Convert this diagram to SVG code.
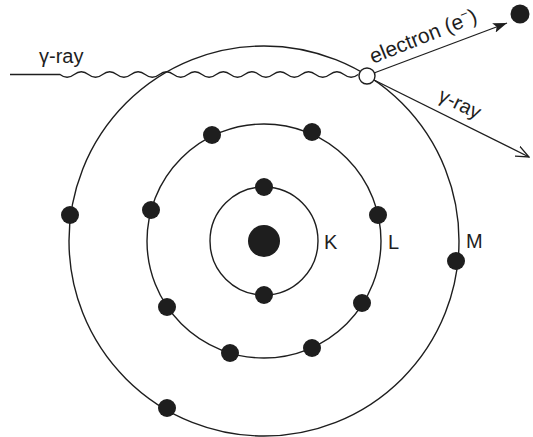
<svg xmlns="http://www.w3.org/2000/svg" width="533" height="437" viewBox="0 0 533 437">
<style>
.orb{fill:none;stroke:#1e1e1e;stroke-width:1.4}
.e{fill:#1e1e1e}
.ln{fill:none;stroke:#1e1e1e;stroke-width:1.3}
text{font-family:"Liberation Sans",Arial,Helvetica,sans-serif;font-size:20px;fill:#1e1e1e}
.lbl{font-size:20px}
.big{font-size:21px}
</style>
<defs>
<marker id="fill" viewBox="0 0 14 10" refX="14" refY="5" markerWidth="14" markerHeight="10" markerUnits="userSpaceOnUse" orient="auto">
<path d="M0,0 L14,5 L0,10 L3,5 Z" fill="#1e1e1e"/>
</marker>
<marker id="open" viewBox="0 0 14 12" refX="13" refY="6" markerWidth="14" markerHeight="12" markerUnits="userSpaceOnUse" orient="auto">
<path d="M0,0.5 L13,6 L0,11.5" fill="none" stroke="#1e1e1e" stroke-width="1.3"/>
</marker>
</defs>
<rect width="533" height="437" fill="#fff"/>
<g id="shells">
<circle id="shell-M" class="orb" cx="264" cy="241" r="195"/>
<circle id="shell-L" class="orb" cx="264" cy="241" r="117"/>
<circle id="shell-K" class="orb" cx="264" cy="241" r="54"/>
</g>
<g id="nucleus"><circle class="e" cx="264" cy="241" r="16"/></g>
<g id="electrons-K">
<circle class="e" cx="264" cy="187" r="9"/>
<circle class="e" cx="264" cy="295" r="9"/>
</g>
<g id="electrons-L">
<circle class="e" cx="212" cy="135" r="9"/>
<circle class="e" cx="312" cy="132" r="9"/>
<circle class="e" cx="151" cy="210" r="9"/>
<circle class="e" cx="378" cy="215" r="9"/>
<circle class="e" cx="167" cy="307" r="9"/>
<circle class="e" cx="362" cy="303" r="9"/>
<circle class="e" cx="230" cy="353" r="9"/>
<circle class="e" cx="312" cy="348" r="9"/>
</g>
<g id="electrons-M">
<circle class="e" cx="70" cy="215" r="9"/>
<circle class="e" cx="456" cy="261" r="9"/>
<circle class="e" cx="167" cy="408" r="9"/>
</g>
<g id="connectors">
<path id="gamma-in" class="ln" d="M10,74.5 H60 q7.1,5.5 14.2,0 t14.2,0 t14.2,0 t14.2,0 t14.2,0 t14.2,0 t14.2,0 t14.2,0 t14.2,0 t14.2,0 t14.2,0 t14.2,0 t14.2,0 t14.2,0 t14.2,0 t14.2,0 t14.2,0 t14.2,0 t14.2,0 t14.2,0 t14.2,0"/>
<line id="electron-out" class="ln" x1="374" y1="73" x2="507" y2="23" marker-end="url(#fill)"/>
<line id="gamma-out" class="ln" x1="374" y1="80" x2="529" y2="157" marker-end="url(#open)"/>
</g>
<g id="interaction"><circle cx="367" cy="76" r="8" fill="#fff" stroke="#1e1e1e" stroke-width="1.4"/></g>
<g id="ejected-electron"><circle class="e" cx="520" cy="14" r="9.5"/></g>
<g id="labels">
<text x="39" y="63">γ-ray</text>
<text class="big" transform="translate(373,64) rotate(-22)">electron (e<tspan dy="-8" font-size="13">−</tspan><tspan dy="8">)</tspan></text>
<text transform="translate(437,100) rotate(26)">γ-ray</text>
<text class="lbl" x="324" y="249">K</text>
<text class="lbl" x="388" y="249">L</text>
<text class="lbl" x="466" y="248">M</text>
</g>
</svg>
